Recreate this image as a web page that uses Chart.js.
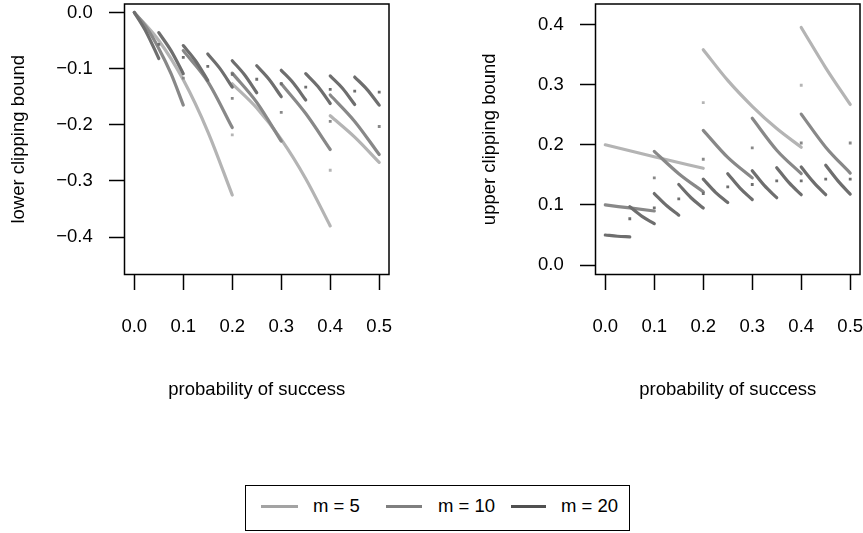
<!DOCTYPE html>
<html>
<head>
<meta charset="utf-8">
<title>Clipping bounds</title>
<script src="https://cdn.jsdelivr.net/npm/chart.js@4.4.1/dist/chart.umd.min.js"></script>
<style>
  html, body { margin: 0; background: #fff; overflow: hidden; }
  #wrap { position: relative; width: 863px; height: 533px; }
  #wrap canvas { position: absolute; top: 0; }
  #lower { left: 0; }
  #upper { left: 471px; }
  .legend {
    position: absolute; left: 245px; top: 485px; width: 385px; height: 46px;
    box-sizing: border-box; border: 1.5px solid #000;
    font: 18.5px "Liberation Sans", Arial, sans-serif; color: #000;
  }
  .legend .swatch { position: absolute; top: 19px; height: 2.5px; }
  .legend .label { position: absolute; top: 9.3px; line-height: 22px; white-space: nowrap; }
</style>
</head>
<body>
<div id="wrap">
  <canvas id="lower" width="431" height="420"></canvas>
  <canvas id="upper" width="431" height="420"></canvas>
  <div class="legend" id="legend"></div>
</div>
<script>
// Axis ticks
const pTicks = [0, 0.1, 0.2, 0.3, 0.4, 0.5];
const lowerTicks = [-0.4, -0.3, -0.2, -0.1, 0];
const upperTicks = [0, 0.1, 0.2, 0.3, 0.4];
const mLabels = ['m = 5', 'm = 10', 'm = 20'];

// Lower clipping bound: continuous pieces between the jumps at k/m,
// plus the single value taken exactly at each jump
const lower5 = [
  [[0, 0], [0.05, -0.05], [0.1, -0.12], [0.15, -0.212], [0.2, -0.325]],
  [[0.2, -0.127], [0.25, -0.17], [0.3, -0.226], [0.35, -0.296], [0.4, -0.38]],
  [[0.4, -0.184], [0.45, -0.222], [0.5, -0.267]],
];
const lower5Jumps = [[0.2, -0.218], [0.4, -0.281]];

const lower10 = [
  [[0, 0], [0.025, -0.027], [0.05, -0.064], [0.075, -0.109], [0.1, -0.165]],
  [[0.1, -0.068], [0.15, -0.123], [0.2, -0.205]],
  [[0.2, -0.108], [0.25, -0.16], [0.3, -0.229]],
  [[0.3, -0.127], [0.35, -0.18], [0.4, -0.244]],
  [[0.4, -0.147], [0.45, -0.194], [0.5, -0.253]],
];
const lower10Jumps = [[0.1, -0.117], [0.2, -0.153], [0.3, -0.178], [0.4, -0.194], [0.5, -0.203]];

const lower20 = [
  [[0, 0], [0.025, -0.036], [0.05, -0.082]],
  [[0.05, -0.036], [0.075, -0.068], [0.1, -0.109]],
  [[0.1, -0.059], [0.125, -0.086], [0.15, -0.121]],
  [[0.15, -0.074], [0.175, -0.1], [0.2, -0.133]],
  [[0.2, -0.086], [0.225, -0.111], [0.25, -0.143]],
  [[0.25, -0.095], [0.275, -0.119], [0.3, -0.15]],
  [[0.3, -0.103], [0.325, -0.126], [0.35, -0.156]],
  [[0.35, -0.109], [0.375, -0.132], [0.4, -0.162]],
  [[0.4, -0.113], [0.425, -0.135], [0.45, -0.164]],
  [[0.45, -0.115], [0.475, -0.137], [0.5, -0.165]],
];
const lower20Jumps = [[0.05, -0.057], [0.1, -0.08], [0.15, -0.096], [0.2, -0.11], [0.25, -0.119],
  [0.3, -0.127], [0.35, -0.133], [0.4, -0.137], [0.45, -0.14], [0.5, -0.142]];

// Upper clipping bound
const upper5 = [
  [[0, 0.2], [0.1, 0.18], [0.2, 0.161]],
  [[0.2, 0.358], [0.25, 0.307], [0.3, 0.264], [0.35, 0.227], [0.4, 0.196]],
  [[0.4, 0.395], [0.45, 0.328], [0.5, 0.267]],
];
const upper5Jumps = [[0.2, 0.27], [0.4, 0.299]];

const upper10 = [
  [[0, 0.1], [0.05, 0.095], [0.1, 0.09]],
  [[0.1, 0.189], [0.15, 0.152], [0.2, 0.122]],
  [[0.2, 0.224], [0.25, 0.179], [0.3, 0.145]],
  [[0.3, 0.244], [0.35, 0.191], [0.4, 0.152]],
  [[0.4, 0.251], [0.45, 0.196], [0.5, 0.153]],
];
const upper10Jumps = [[0.1, 0.145], [0.2, 0.176], [0.3, 0.195], [0.4, 0.203], [0.5, 0.203]];

const upper20 = [
  [[0, 0.05], [0.025, 0.048], [0.05, 0.047]],
  [[0.05, 0.097], [0.075, 0.081], [0.1, 0.069]],
  [[0.1, 0.119], [0.125, 0.099], [0.15, 0.083]],
  [[0.15, 0.134], [0.175, 0.112], [0.2, 0.095]],
  [[0.2, 0.143], [0.225, 0.121], [0.25, 0.104]],
  [[0.25, 0.152], [0.275, 0.128], [0.3, 0.109]],
  [[0.3, 0.157], [0.325, 0.132], [0.35, 0.112]],
  [[0.35, 0.162], [0.375, 0.137], [0.4, 0.117]],
  [[0.4, 0.163], [0.425, 0.138], [0.45, 0.117]],
  [[0.45, 0.166], [0.475, 0.14], [0.5, 0.118]],
];
const upper20Jumps = [[0.05, 0.077], [0.1, 0.095], [0.15, 0.11], [0.2, 0.119], [0.25, 0.13],
  [0.3, 0.134], [0.35, 0.14], [0.4, 0.14], [0.45, 0.143], [0.5, 0.143]];

// Greys for m = 5, 10, 20 (curves and legend keys)
const curveColors = ['#b4b4b4', '#888888', '#6e6e6e'];
const keyColors = ['#a3a3a3', '#7f7f7f', '#505050'];

const FONT = { family: '"Liberation Sans", Arial, sans-serif', size: 18.5 };

function fmt(v) {
  if (Math.abs(v) < 1e-9) return '0.0';
  return (v < 0 ? '\u2212' : '') + Math.abs(v).toFixed(1);
}

// One line dataset per continuous piece and one dataset for the jump values.
// Lower `order` is drawn on top, so m = 20 sits above m = 10 above m = 5.
function buildDatasets(groups) {
  const sets = [];
  groups.forEach((g, i) => {
    const order = groups.length - i;
    g.pieces.forEach(piece => {
      sets.push({
        data: piece.map(([x, y]) => ({ x, y })),
        showLine: true,
        borderColor: curveColors[i],
        borderWidth: 3.2,
        borderCapStyle: 'round',
        cubicInterpolationMode: 'monotone',
        pointRadius: 0,
        order,
      });
    });
    sets.push({
      data: g.jumps.map(([x, y]) => ({ x, y })),
      showLine: false,
      pointStyle: 'rect',
      pointRadius: 2,
      pointBorderWidth: 0,
      backgroundColor: curveColors[i],
      order,
    });
  });
  return sets;
}

// Closed box around the plotting region
const framePlugin = {
  id: 'frame',
  afterDraw(chart) {
    const { ctx, chartArea: a } = chart;
    ctx.save();
    ctx.strokeStyle = '#000';
    ctx.lineWidth = 1.5;
    ctx.strokeRect(a.left, a.top, a.right - a.left, a.bottom - a.top);
    ctx.restore();
  },
};

function renderPanel(canvas, yTitle, yTicks, yMin, yMax, groups) {
  const tickGrid = { drawOnChartArea: false, drawTicks: true, tickLength: 15.5, tickWidth: 1.5, tickColor: '#000' };
  return new Chart(canvas, {
    type: 'scatter',
    data: { datasets: buildDatasets(groups) },
    options: {
      responsive: false,
      animation: false,
      devicePixelRatio: 1,
      layout: { padding: { left: 0, right: 42, top: 1, bottom: 19.2 } },
      plugins: { legend: { display: false }, tooltip: { enabled: false } },
      scales: {
        x: {
          type: 'linear', min: -0.02, max: 0.52,
          afterBuildTicks: s => { s.ticks = pTicks.map(v => ({ value: v })); },
          afterFit: s => { s.height = 126.3; s.paddingLeft = 0; s.paddingRight = 0; },
          ticks: { font: FONT, color: '#000', padding: 26.2, autoSkip: false, maxRotation: 0, callback: v => fmt(v) },
          grid: tickGrid,
          border: { display: false },
          title: { display: true, text: 'probability of success', font: FONT, color: '#000', padding: { top: 0, bottom: 0 } },
        },
        y: {
          type: 'linear', min: yMin, max: yMax,
          afterBuildTicks: s => { s.ticks = yTicks.map(v => ({ value: v })); },
          afterFit: s => { s.width = 124.5; s.paddingTop = 0; s.paddingBottom = 0; },
          ticks: { font: FONT, color: '#000', padding: 16.2, autoSkip: false, callback: v => fmt(v) },
          grid: tickGrid,
          border: { display: false },
          title: { display: true, text: yTitle, font: FONT, color: '#000', padding: { top: 7.4, bottom: 0 } },
        },
      },
    },
    plugins: [framePlugin],
  });
}

renderPanel(document.getElementById('lower'), 'lower clipping bound', lowerTicks, -0.4665, 0.015, [
  { pieces: lower5, jumps: lower5Jumps },
  { pieces: lower10, jumps: lower10Jumps },
  { pieces: lower20, jumps: lower20Jumps },
]);

renderPanel(document.getElementById('upper'), 'upper clipping bound', upperTicks, -0.0156, 0.434, [
  { pieces: upper5, jumps: upper5Jumps },
  { pieces: upper10, jumps: upper10Jumps },
  { pieces: upper20, jumps: upper20Jumps },
]);

// Shared legend under both panels
const legendEl = document.getElementById('legend');
const keyLeft = [15, 140, 265];
const keyWidth = [37, 36, 35];
const labelLeft = [67, 192, 315];
mLabels.forEach((text, i) => {
  const sw = document.createElement('span');
  sw.className = 'swatch';
  sw.style.left = keyLeft[i] + 'px';
  sw.style.width = keyWidth[i] + 'px';
  sw.style.background = keyColors[i];
  legendEl.appendChild(sw);
  const lab = document.createElement('span');
  lab.className = 'label';
  lab.style.left = labelLeft[i] + 'px';
  lab.textContent = text;
  legendEl.appendChild(lab);
});
</script>
</body>
</html>
